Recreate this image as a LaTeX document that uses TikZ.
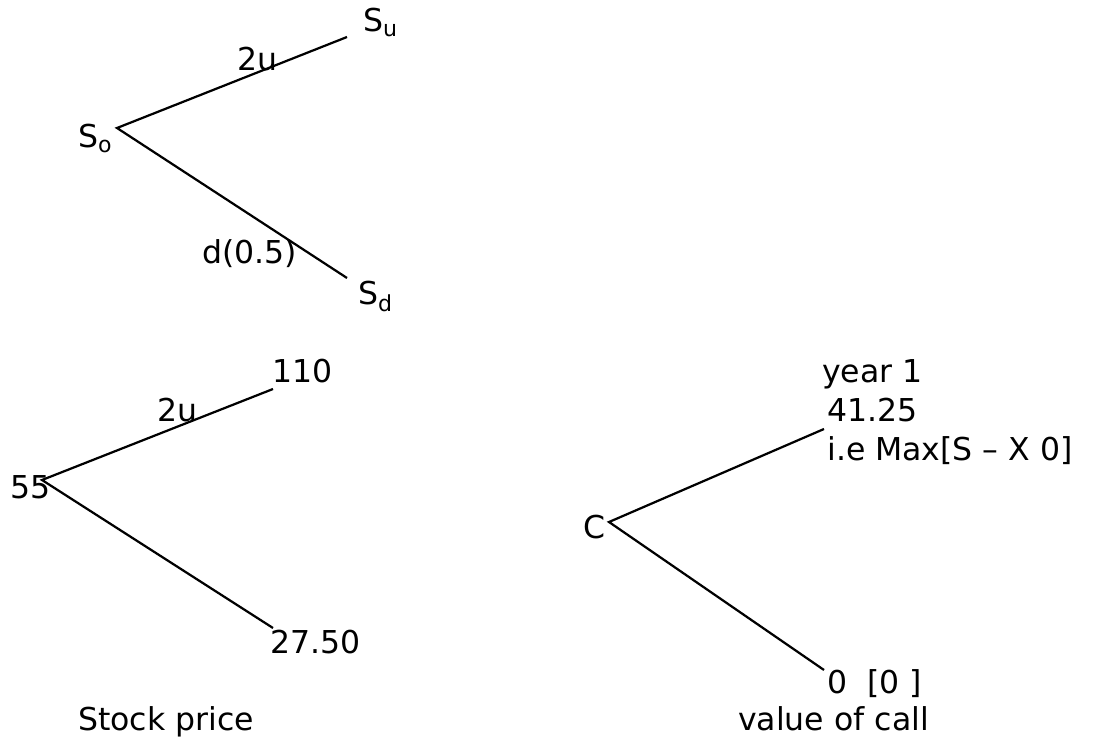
\documentclass[tikz,border=0pt]{standalone}
\usepackage{fontspec}
\setmainfont{DejaVu Sans}
\usepackage{tikz}
\usetikzlibrary{positioning}

\begin{document}
\begin{tikzpicture}[x=0.03cm, y=-0.03cm,
      lbl/.style={anchor=base west, inner sep=0pt, font=\fontsize{26.9}{32.8}\selectfont},
      branch/.style={line width=1.9pt, color=black}
    ]
      \useasboundingbox (0,0) rectangle (1119,737);
      % general tree
      \coordinate (S0) at (117,128);
      \coordinate (Su) at (347,37);
      \coordinate (Sd) at (347,278);
      \draw[branch] (Su) -- (S0) -- (Sd);
      \node[lbl] (labSu) at (363,32) {S\textsubscript{u}};
      \node[lbl] (labS0) at (78,148) {S\textsubscript{o}};
      \node[lbl] (labSd) at (358,305) {S\textsubscript{d}};
      \node[lbl] (upA) at (237,71) {2u};
      \node[lbl] (downA) at (202,264) {d(0.5)};
      % stock price tree
      \coordinate (P0) at (42,480);
      \coordinate (Pu) at (273,389);
      \coordinate (Pd) at (273,628);
      \draw[branch] (Pu) -- (P0) -- (Pd);
      \node[lbl] (pu) at (272,382) {110};
      \node[lbl] (upB) at (157,421) {2u};
      \node[lbl] (p0) at (10,498) {55};
      \node[lbl] (pd) at (270,653) {27.50};
      \node[lbl] (stock) at (78,730) {Stock price};
      % call value tree
      \coordinate (C0) at (609,522);
      \coordinate (Cu) at (824,429);
      \coordinate (Cd) at (824,670);
      \draw[branch] (Cu) -- (C0) -- (Cd);
      \node[lbl] (c0) at (583,538) {C};
      \node[lbl] (year) at (822,382) {year 1};
      \node[lbl] (cu) at (827,421) {41.25};
      \node[lbl] (payoff) at (827,460) {i.e Max[S – X 0]};
      \node[lbl] (cd) at (827,693) {0\ \ [0\ ]};
      \node[lbl] (call) at (738,730) {value of call};
    \end{tikzpicture}
\end{document}
